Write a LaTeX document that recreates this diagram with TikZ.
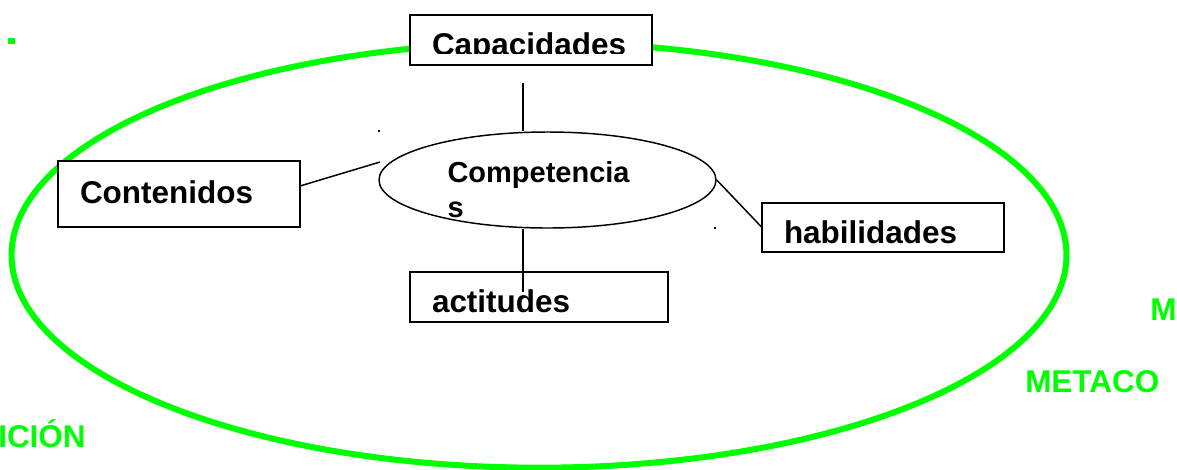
\documentclass[tikz,border=0pt]{standalone}
\usepackage{fontspec}
\setmainfont{Liberation Sans}
\usetikzlibrary{shapes.geometric}
\definecolor{ovalgreen}{RGB}{0,255,0}
\tikzset{
  box/.style={draw, line width=1.4pt, fill=white, anchor=base west, outer sep=0pt,
    inner xsep=16.5pt, inner ysep=0pt, align=left, font=\bfseries\fontsize{23.6}{28}\selectfont},
  link/.style={line width=1.1pt},
  greentext/.style={text=ovalgreen, anchor=base west, inner sep=0pt,
    font=\bfseries\fontsize{23.6}{28}\selectfont},
  speck/.style={fill, inner sep=0pt, minimum size=1.5pt},
}
\begin{document}
\begin{tikzpicture}[x=0.75pt,y=-0.75pt]
    \useasboundingbox (0,0) rectangle (1177,469);
    \draw[ovalgreen, line width=4.5pt] (539,255) ellipse [x radius=395.6pt, y radius=159.5pt];
    \node[fill=ovalgreen, inner sep=0pt, minimum width=5.25pt, minimum height=4.5pt] (gdot) at (11.5,41) {};

    \begin{scope}
      \clip (0,0) rectangle (1177,53.5);
      \node[box, text width=148.5pt, text height=30pt, text depth=7.5pt] (cap) at (410,55) {Capacidades};
    \end{scope}
    \draw[line width=1.4pt] (cap.north west) rectangle (cap.south east);
    \node[box, text width=148.5pt, text height=31.5pt, text depth=18pt] (cont) at (58,203) {Contenidos};
    \node[box, text width=148.5pt, text height=30pt, text depth=6.75pt] (hab) at (762,243) {habilidades};
    \node[box, text width=160.5pt, text height=30pt, text depth=7.5pt] (act) at (410,312) {actitudes};
    \node[draw, ellipse, line width=1.1pt, minimum width=252.75pt, minimum height=72pt, inner sep=0pt,
      text width=150pt, text height=3pt, text depth=0pt, align=left,
      font=\bfseries\fontsize{21.75}{26.25}\selectfont] (comp) at (547.5,180) {Competencia\\s};

    \node[speck] (speck1) at (379,131) {};
    \node[speck] (speck2) at (715,228) {};
    \coordinate (capend) at (523,83);
    \coordinate (actend) at (523,292);
    \coordinate (contend) at (380,162);

    \draw[link]
    (capend) edge (capend |- comp.north)
    (actend |- comp.south) edge (actend)
    ([yshift=6pt]cont.east) edge (contend)
    (comp.east) edge (hab.west);

    \node[greentext] (m) at (1150,320) {M};
    \node[greentext] (metaco) at (1025,392) {METACO};
    \node[greentext] (icion) at (-2,447) {ICIÓN};
  \end{tikzpicture}
\end{document}
